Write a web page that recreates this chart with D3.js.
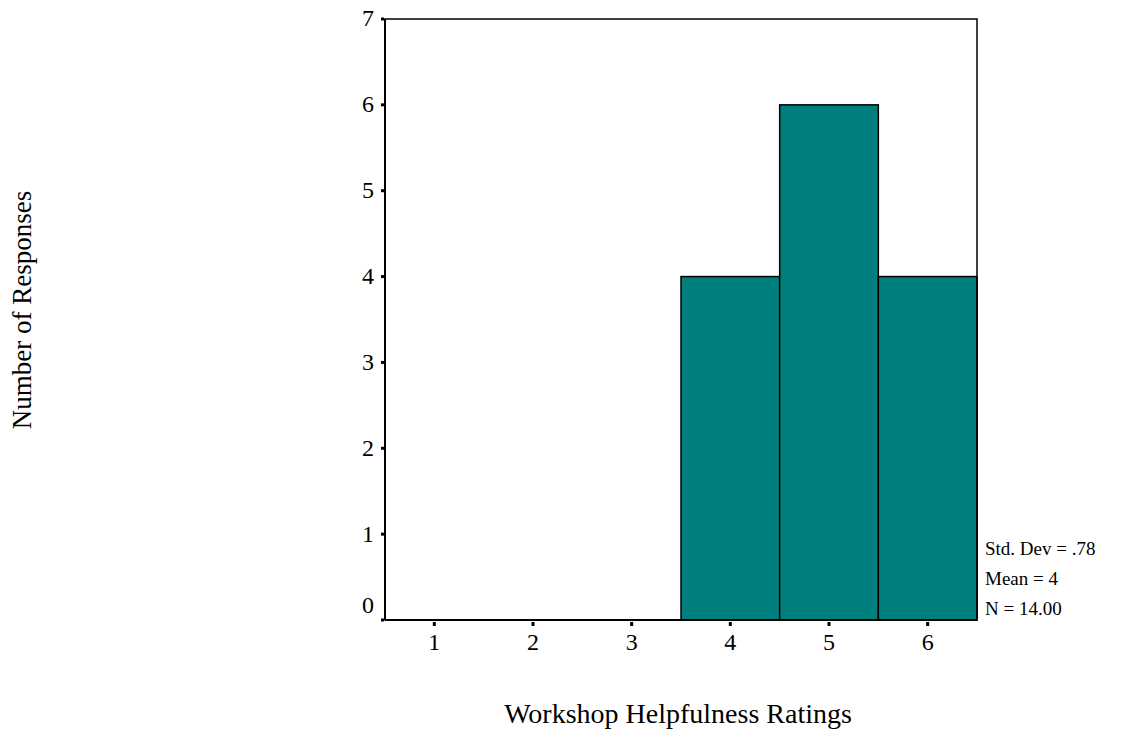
<!DOCTYPE html>
<html><head><meta charset="utf-8">
<script src="https://cdn.jsdelivr.net/npm/d3@7"></script>
<style>body{margin:0;background:#fff}svg{display:block}text{font-family:"Liberation Serif","Times New Roman",serif;fill:#000}</style>
</head><body>
<svg id="c" width="1127" height="733"></svg>
<script>
const categories = [1, 2, 3, 4, 5, 6];
const counts = [0, 0, 0, 4, 6, 4];
const yTicks = [0, 1, 2, 3, 4, 5, 6, 7];
const stats = ["Std. Dev = .78", "Mean = 4", "N = 14.00"];
const xTitle = "Workshop Helpfulness Ratings";
const yTitle = "Number of Responses";

const svg = d3.select("#c");
const L = 385, R = 977, T = 19, B = 620;
const x = d3.scaleLinear().domain([0.5, 6.5]).range([L, R]);
const y = d3.scaleLinear().domain([0, 7]).range([B, T]);
const fill = "#007F7F";

// bars
svg.selectAll("rect.bar").data(categories.map((c, i) => ({c, v: counts[i]})).filter(d => d.v > 0))
  .enter().append("rect").attr("class", "bar")
  .attr("x", d => x(d.c - 0.5)).attr("width", d => x(d.c + 0.5) - x(d.c - 0.5))
  .attr("y", d => y(d.v)).attr("height", d => y(0) - y(d.v))
  .attr("fill", fill).attr("stroke", "#000").attr("stroke-width", 1.5);

// frame
svg.append("rect").attr("x", L).attr("y", T).attr("width", R - L).attr("height", B - T)
  .attr("fill", "none").attr("stroke", "#000").attr("stroke-width", 1.5);
svg.append("line").attr("x1", L).attr("x2", L).attr("y1", T).attr("y2", B).attr("stroke", "#000").attr("stroke-width", 2);
svg.append("line").attr("x1", L).attr("x2", R).attr("y1", B).attr("y2", B).attr("stroke", "#000").attr("stroke-width", 2);

// y ticks
svg.selectAll("rect.yt").data(yTicks).enter().append("rect")
  .attr("x", L - 4).attr("y", d => y(d) - 1.5).attr("width", 3).attr("height", 3).attr("fill", "#000");
svg.selectAll("text.yl").data(yTicks).enter().append("text")
  .attr("x", L - 11).attr("y", d => d === 0 ? y(d) - 15 : y(d) - 1)
  .attr("dy", "0.35em").attr("text-anchor", "end").attr("font-size", 24).text(d => d);

// x ticks
svg.selectAll("rect.xt").data(categories).enter().append("rect")
  .attr("x", d => x(d) - 1.5).attr("y", B + 2).attr("width", 3).attr("height", 4).attr("fill", "#000");
svg.selectAll("text.xl").data(categories).enter().append("text")
  .attr("x", d => x(d)).attr("y", 650).attr("text-anchor", "middle").attr("font-size", 24).text(d => d);

// stats
svg.selectAll("text.st").data(stats).enter().append("text")
  .attr("x", 985).attr("y", (d, i) => 555 + i * 30).attr("font-size", 19).text(d => d);

// titles
svg.append("text").attr("x", 678).attr("y", 723).attr("text-anchor", "middle").attr("font-size", 28).text(xTitle);
svg.append("text").attr("transform", "translate(31,310) rotate(-90)").attr("text-anchor", "middle").attr("font-size", 27).text(yTitle);
</script>
</body></html>
